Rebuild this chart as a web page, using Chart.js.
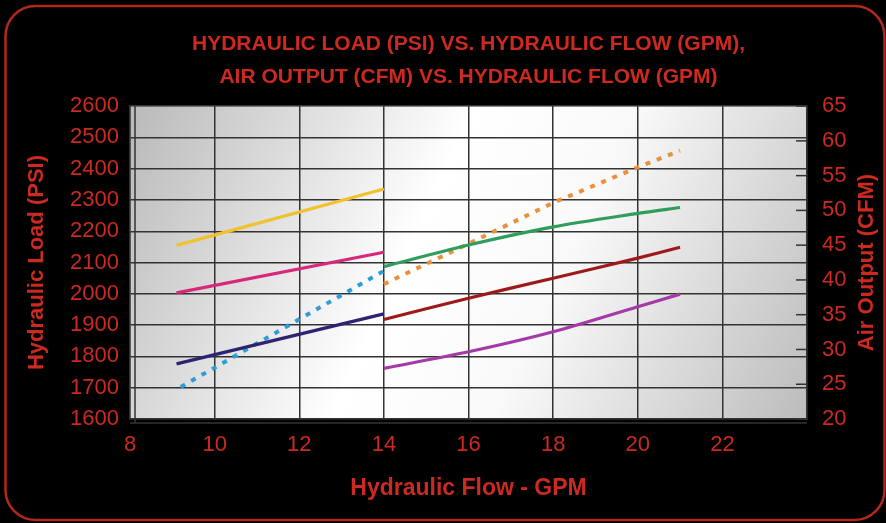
<!DOCTYPE html>
<html>
<head>
<meta charset="utf-8">
<script src="https://cdn.jsdelivr.net/npm/chart.js@4/dist/chart.umd.min.js"></script>
<style>
  html, body { margin: 0; padding: 0; background: #000; }
  #wrap { width: 886px; height: 523px; }
</style>
</head>
<body>
<div id="wrap"><canvas id="flowChart" width="886" height="523"></canvas></div>
<script>
// flow points (GPM)
const flowLow = [9.1, 14];
const flowBlue = [9.2, 14];
const flowHigh = [14, 16, 18, 20, 21];

// hydraulic load (PSI), left axis
const loadYellow = [2155, 2335];
const loadPink = [2003, 2133];
const loadNavy = [1776, 1936];
const loadGreen = [2087, 2156, 2214, 2257, 2276];
const loadDarkRed = [1918, 1986, 2050, 2114, 2149];
const loadPurple = [1762, 1815, 1879, 1959, 1999];

// air output (CFM), right axis
const airBlue = [24.6, 41.3];
const airOrange = [39.4, 45.2, 51.1, 56.2, 58.6];

const psiTicks = [1600, 2600, 100];
const cfmTicks = [20, 65, 5];
const flowTicks = [8, 24, 2];

const titleLines = [
  'HYDRAULIC LOAD (PSI) VS. HYDRAULIC FLOW (GPM),',
  'AIR OUTPUT (CFM) VS. HYDRAULIC FLOW (GPM)'
];
const rightTitle = 'Air Output (CFM)';

const red = '#cc2a20';
const font = 'Liberation Sans, Arial, Helvetica, sans-serif';

const pts = (xs, ys) => xs.map((x, i) => ({ x: x, y: ys[i] }));

function solid(data, color, tension) {
  return {
    data: data, borderColor: color, borderWidth: 3.2,
    pointRadius: 0, tension: tension || 0, yAxisID: 'y', fill: false
  };
}
function dotted(data, color) {
  return {
    data: data, borderColor: color, borderWidth: 4, borderDash: [5, 7],
    pointRadius: 0, tension: 0, yAxisID: 'y1', fill: false
  };
}

// background, rounded frame, plot gradient, right axis title
const backdrop = {
  id: 'backdrop',
  beforeDraw(chart) {
    const { ctx, chartArea: a } = chart;
    ctx.save();
    ctx.fillStyle = '#000';
    ctx.fillRect(0, 0, chart.width, chart.height);
    ctx.strokeStyle = '#b3281e';
    ctx.lineWidth = 2.5;
    ctx.beginPath();
    ctx.roundRect(5.5, 6, 879, 514, 30);
    ctx.stroke();
    const g = ctx.createLinearGradient(a.left, a.top, a.right, a.bottom);
    g.addColorStop(0, '#b9b9b9');
    g.addColorStop(0.42, '#ffffff');
    g.addColorStop(0.62, '#f9f9f9');
    g.addColorStop(1, '#bcbcbc');
    ctx.fillStyle = g;
    ctx.fillRect(a.left, a.top, a.right - a.left, a.bottom - a.top);
    ctx.restore();
  },
  beforeDatasetsDraw(chart) {
    const { ctx, chartArea: a } = chart;
    const y1 = chart.scales.y1;
    ctx.save();
    ctx.strokeStyle = '#333';
    ctx.lineWidth = 1.5;
    // inward ticks on the right axis
    y1.ticks.forEach(t => {
      const py = y1.getPixelForValue(t.value);
      ctx.beginPath();
      ctx.moveTo(a.right - 11, py);
      ctx.lineTo(a.right, py);
      ctx.stroke();
    });
    // second frame line on left and bottom
    ctx.beginPath();
    ctx.moveTo(a.left + 5, a.top);
    ctx.lineTo(a.left + 5, a.bottom + 4);
    ctx.moveTo(a.left, a.bottom + 4);
    ctx.lineTo(a.right, a.bottom + 4);
    ctx.stroke();
    // right axis title, reading bottom to top
    ctx.translate(y1.right - 19, (a.top + a.bottom) / 2);
    ctx.rotate(-Math.PI / 2);
    ctx.fillStyle = red;
    ctx.font = 'bold 22px ' + font;
    ctx.textAlign = 'center';
    ctx.textBaseline = 'middle';
    ctx.fillText(rightTitle, 0, 0);
    ctx.restore();
  }
};

const ctx = document.getElementById('flowChart').getContext('2d');
new Chart(ctx, {
  type: 'line',
  data: {
    datasets: [
      solid(pts(flowLow, loadYellow), '#f0c22e'),
      solid(pts(flowLow, loadPink), '#d8287c'),
      solid(pts(flowLow, loadNavy), '#2c2470'),
      dotted(pts(flowBlue, airBlue), '#2c9dd8'),
      solid(pts(flowHigh, loadGreen), '#2f9d5c', 0.3),
      solid(pts(flowHigh, loadDarkRed), '#9e1a1a', 0.2),
      solid(pts(flowHigh, loadPurple), '#a43aa6', 0.3),
      dotted(pts(flowHigh, airOrange), '#e8913a')
    ]
  },
  options: {
    responsive: false,
    animation: false,
    layout: { padding: 0 },
    plugins: {
      legend: { display: false },
      tooltip: { enabled: false },
      title: {
        display: true,
        fullSize: false,
        text: titleLines,
        color: red,
        font: { family: font, size: 21, weight: 'bold', lineHeight: 1.55 },
        padding: { top: 28, bottom: 13 }
      }
    },
    scales: {
      x: {
        type: 'linear',
        min: flowTicks[0], max: flowTicks[1],
        afterFit(s) { s.height = 104; },
        ticks: {
          stepSize: flowTicks[2], color: red, padding: 13,
          font: { family: font, size: 22 },
          callback: v => (v === flowTicks[1] ? '' : String(v))
        },
        grid: { color: '#333', lineWidth: 1.5, drawTicks: false },
        border: { color: '#333', width: 1.5 },
        title: {
          display: true, text: 'Hydraulic Flow - GPM', color: red,
          font: { family: font, size: 23, weight: 'bold' },
          padding: { bottom: 21 }
        }
      },
      y: {
        position: 'left',
        min: psiTicks[0], max: psiTicks[1],
        afterFit(s) { s.width = 130; },
        ticks: {
          stepSize: psiTicks[2], color: red, padding: 11,
          font: { family: font, size: 22 },
          callback: v => String(v)
        },
        grid: { color: '#333', lineWidth: 1.5, drawTicks: false },
        border: { color: '#333', width: 1.5 },
        title: {
          display: true, text: 'Hydraulic Load (PSI)', color: red,
          font: { family: font, size: 22, weight: 'bold' },
          padding: { top: 24 }
        }
      },
      y1: {
        position: 'right',
        min: cfmTicks[0], max: cfmTicks[1],
        afterFit(s) { s.width = 79; },
        ticks: {
          stepSize: cfmTicks[2], color: red, padding: 15,
          font: { family: font, size: 22 },
          callback: v => String(v)
        },
        grid: { drawOnChartArea: false, drawTicks: false },
        border: { color: '#333', width: 1.5 }
      }
    }
  },
  plugins: [backdrop]
});
</script>
</body>
</html>
